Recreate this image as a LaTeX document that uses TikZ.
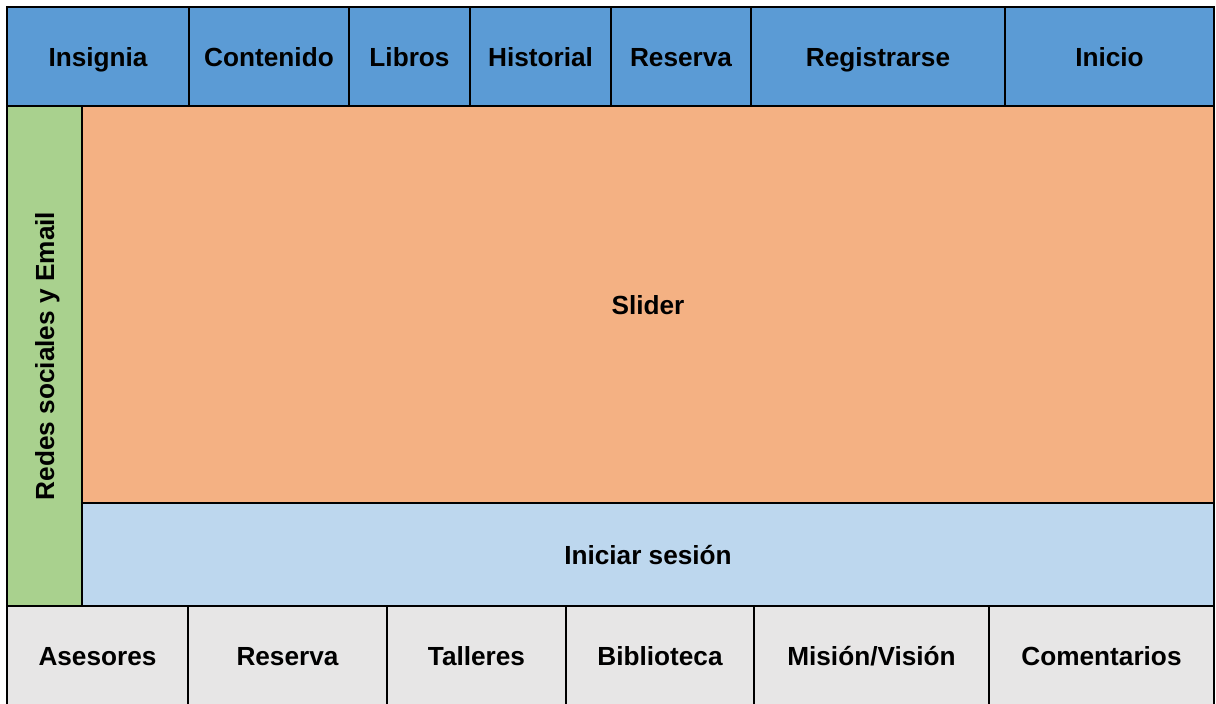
\documentclass[tikz,border=0pt]{standalone}
\usepackage{fontspec}
\setmainfont{Liberation Sans}
\definecolor{hdr}{HTML}{5B9BD5}
\definecolor{sld}{HTML}{F4B183}
\definecolor{lgn}{HTML}{BDD7EE}
\definecolor{grn}{HTML}{A9D18E}
\definecolor{ftr}{HTML}{E7E6E6}
\tikzset{
  cell/.style={draw=black, line width=2pt, inner sep=0pt, text height=19pt, text depth=0pt,
    font=\fontsize{26.2}{30}\selectfont\bfseries, align=center},
  hcell/.style={cell, fill=hdr, minimum height=99pt},
  fcell/.style={cell, fill=ftr, minimum height=100pt},
}
\begin{document}
\begin{tikzpicture}[x=1pt,y=-1pt]
\useasboundingbox[fill=white] (0,0) rectangle (1216,704);
% main body
\node[cell, fill=sld, minimum width=1132pt, minimum height=397pt] (slider) at (648,304.5) {Slider};
\node[cell, fill=lgn, minimum width=1132pt, minimum height=103pt] (login) at (648,554.5) {Iniciar sesión};
\node[cell, fill=grn, rotate=90, minimum width=500pt, minimum height=75pt] (redes) at (44.5,356) {Redes sociales y Email};
% header
\node[hcell, minimum width=182pt] (insignia) at (98,56.5) {Insignia};
\node[hcell, minimum width=160pt] (contenido) at (269,56.5) {Contenido};
\node[hcell, minimum width=121pt] (libros) at (409.5,56.5) {Libros};
\node[hcell, minimum width=141pt] (historial) at (540.5,56.5) {Historial};
\node[hcell, minimum width=140pt] (reservah) at (681,56.5) {Reserva};
\node[hcell, minimum width=254pt] (registrarse) at (878,56.5) {Registrarse};
\node[hcell, minimum width=209pt] (inicio) at (1109.5,56.5) {Inicio};
% footer
\node[fcell, minimum width=181pt] (asesores) at (97.5,656) {Asesores};
\node[fcell, minimum width=199pt] (reservaf) at (287.5,656) {Reserva};
\node[fcell, minimum width=179pt] (talleres) at (476.5,656) {Talleres};
\node[fcell, minimum width=188pt] (biblioteca) at (660,656) {Biblioteca};
\node[fcell, minimum width=235pt] (mision) at (871.5,656) {Misión/Visión};
\node[fcell, minimum width=225pt] (comentarios) at (1101.5,656) {Comentarios};
\end{tikzpicture}
\end{document}
